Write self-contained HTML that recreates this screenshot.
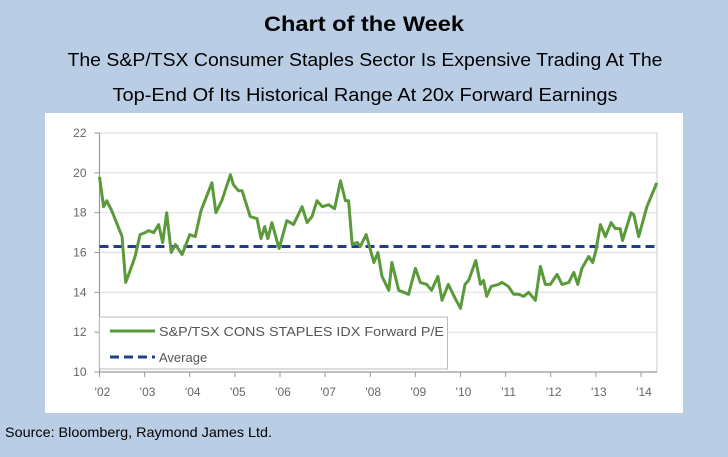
<!DOCTYPE html>
<html><head><meta charset="utf-8"><style>
html,body{margin:0;padding:0;background:#b9cde5;}
svg{display:block;font-family:"Liberation Sans",sans-serif;}
</style></head><body>
<svg width="728" height="457" viewBox="0 0 728 457">
<rect x="0" y="0" width="728" height="452" fill="#b9cde5"/>
<text x="364" y="31" text-anchor="middle" font-size="21" font-weight="bold" fill="#000" textLength="200" lengthAdjust="spacingAndGlyphs">Chart of the Week</text>
<text x="365" y="66" text-anchor="middle" font-size="18" fill="#000" textLength="595" lengthAdjust="spacingAndGlyphs">The S&amp;P/TSX Consumer Staples Sector Is Expensive Trading At The</text>
<text x="365" y="101" text-anchor="middle" font-size="18" fill="#000" textLength="505" lengthAdjust="spacingAndGlyphs">Top-End Of Its Historical Range At 20x Forward Earnings</text>
<rect x="45" y="113" width="638" height="300" fill="#fff"/>
<g id="grid"></g>
<g id="axes"></g>
<g id="series"></g>
<g>
<rect x="99.5" y="317" width="348" height="52" fill="#fff" stroke="#bbb" stroke-width="1"/>
<line x1="110" y1="331" x2="155" y2="331" stroke="#5b9a3b" stroke-width="3"/>
<text x="159" y="336" font-size="13" fill="#555" textLength="285" lengthAdjust="spacingAndGlyphs">S&amp;P/TSX CONS STAPLES IDX Forward P/E</text>
<line x1="110" y1="357" x2="155" y2="357" stroke="#1f3f8c" stroke-width="3" stroke-dasharray="9,5"/>
<text x="159" y="362" font-size="13" fill="#555">Average</text>
</g>
<text x="5" y="437" font-size="14" fill="#000" textLength="267" lengthAdjust="spacingAndGlyphs">Source: Bloomberg, Raymond James Ltd.</text>
</svg>
<script>
const years=[2002,2002.09,2002.16,2002.27,2002.5,2002.51,2002.58,2002.68,2002.79,2002.9,2003.01,2003.09,2003.2,2003.31,2003.4,2003.49,2003.59,2003.68,2003.83,2004.0,2004.12,2004.25,2004.49,2004.58,2004.71,2004.9,2004.97,2005.08,2005.16,2005.34,2005.49,2005.58,2005.66,2005.73,2005.82,2005.98,2006.15,2006.3,2006.49,2006.6,2006.71,2006.82,2006.94,2007.08,2007.21,2007.34,2007.45,2007.52,2007.6,2007.71,2007.78,2007.91,2008.08,2008.17,2008.26,2008.41,2008.48,2008.63,2008.85,2009.0,2009.11,2009.25,2009.36,2009.5,2009.59,2009.73,2009.88,2010.0,2010.1,2010.18,2010.34,2010.44,2010.51,2010.58,2010.68,2010.84,2010.92,2011.06,2011.18,2011.29,2011.4,2011.51,2011.66,2011.77,2011.88,2011.99,2012.14,2012.25,2012.4,2012.51,2012.6,2012.69,2012.84,2012.93,2013.0,2013.1,2013.21,2013.34,2013.43,2013.54,2013.59,2013.78,2013.84,2013.95,2014.13,2014.35];
const peValues=[19.8,18.3,18.6,18.1,16.8,16.5,14.5,15.1,15.8,16.9,17.0,17.1,17.0,17.4,16.5,18.0,16.0,16.4,15.9,16.9,16.8,18.1,19.5,18.0,18.6,19.9,19.4,19.1,19.1,17.8,17.7,16.7,17.3,16.7,17.5,16.2,17.6,17.4,18.3,17.5,17.8,18.6,18.3,18.4,18.2,19.6,18.6,18.6,16.4,16.5,16.3,16.9,15.5,16.0,14.8,14.1,15.5,14.1,13.9,15.2,14.5,14.4,14.1,14.8,13.6,14.4,13.7,13.2,14.4,14.6,15.6,14.4,14.6,13.8,14.3,14.4,14.5,14.3,13.9,13.9,13.8,14.0,13.6,15.3,14.4,14.4,14.9,14.4,14.5,15.0,14.4,15.2,15.8,15.5,16.1,17.4,16.8,17.5,17.2,17.2,16.6,18.0,17.9,16.8,18.3,19.5];
const averageValue=16.3;
const yTicks=[10,12,14,16,18,20,22];
const xTickYears=[2002,2003,2004,2005,2006,2007,2008,2009,2010,2011,2012,2013,2014];
const xTickLabels=["'02","'03","'04","'05","'06","'07","'08","'09","'10","'11","'12","'13","'14"];

const NS="http://www.w3.org/2000/svg";
const L=99.5,R=657,T=133,B=372;
const xS=y=>L+(y-2002)*(641-L)/12;
const yS=v=>B-(v-10)*(B-T)/12;
function mk(tag,attrs,parent,text){const e=document.createElementNS(NS,tag);for(const k in attrs)e.setAttribute(k,attrs[k]);if(text!==undefined)e.textContent=text;parent.appendChild(e);return e;}
const grid=document.getElementById('grid'),axes=document.getElementById('axes'),series=document.getElementById('series');
yTicks.forEach(v=>{
  if(v>10){const g=mk('line',{x1:L,x2:R,y1:yS(v),y2:yS(v),stroke:'#e0e0e0','stroke-width':1.2},grid);
  
  }
  const t=mk('line',{x1:L-5,x2:L,y1:yS(v),y2:yS(v),stroke:'#999'},axes);
  
  
  const lb=mk('text',{x:L-13,y:yS(v)+4,'text-anchor':'end','font-size':12,fill:'#666'},axes,String(v));
  
  
});
const rb=mk('line',{x1:R,x2:R,y1:T,y2:B,stroke:'#ccc'},grid);


const ya=mk('line',{x1:L,x2:L,y1:T,y2:B,stroke:'#999','stroke-width':1.2},axes);


const xa=mk('line',{x1:L,x2:R,y1:B,y2:B,stroke:'#999','stroke-width':1.2},axes);


xTickYears.forEach((y,i)=>{
  const t=mk('line',{x1:xS(y),x2:xS(y),y1:B,y2:B+5,stroke:'#999'},axes);
  
  
  const lb=mk('text',{x:xS(y)+3,y:B+24,'text-anchor':'middle','font-size':12,fill:'#666'},axes,xTickLabels[i]);
  
  
});
const avg=mk('line',{x1:L,x2:R,y1:yS(averageValue),y2:yS(averageValue),stroke:'#1f3f8c','stroke-width':3,'stroke-dasharray':'9,5'},series);


const d=years.map((y,i)=>(i?'L':'M')+xS(y).toFixed(1)+','+yS(peValues[i]).toFixed(1)).join(' ');
const p=mk('path',{d:d,fill:'none',stroke:'#5b9a3b','stroke-width':3,'stroke-linejoin':'round'},series);


</script>
</body></html>
